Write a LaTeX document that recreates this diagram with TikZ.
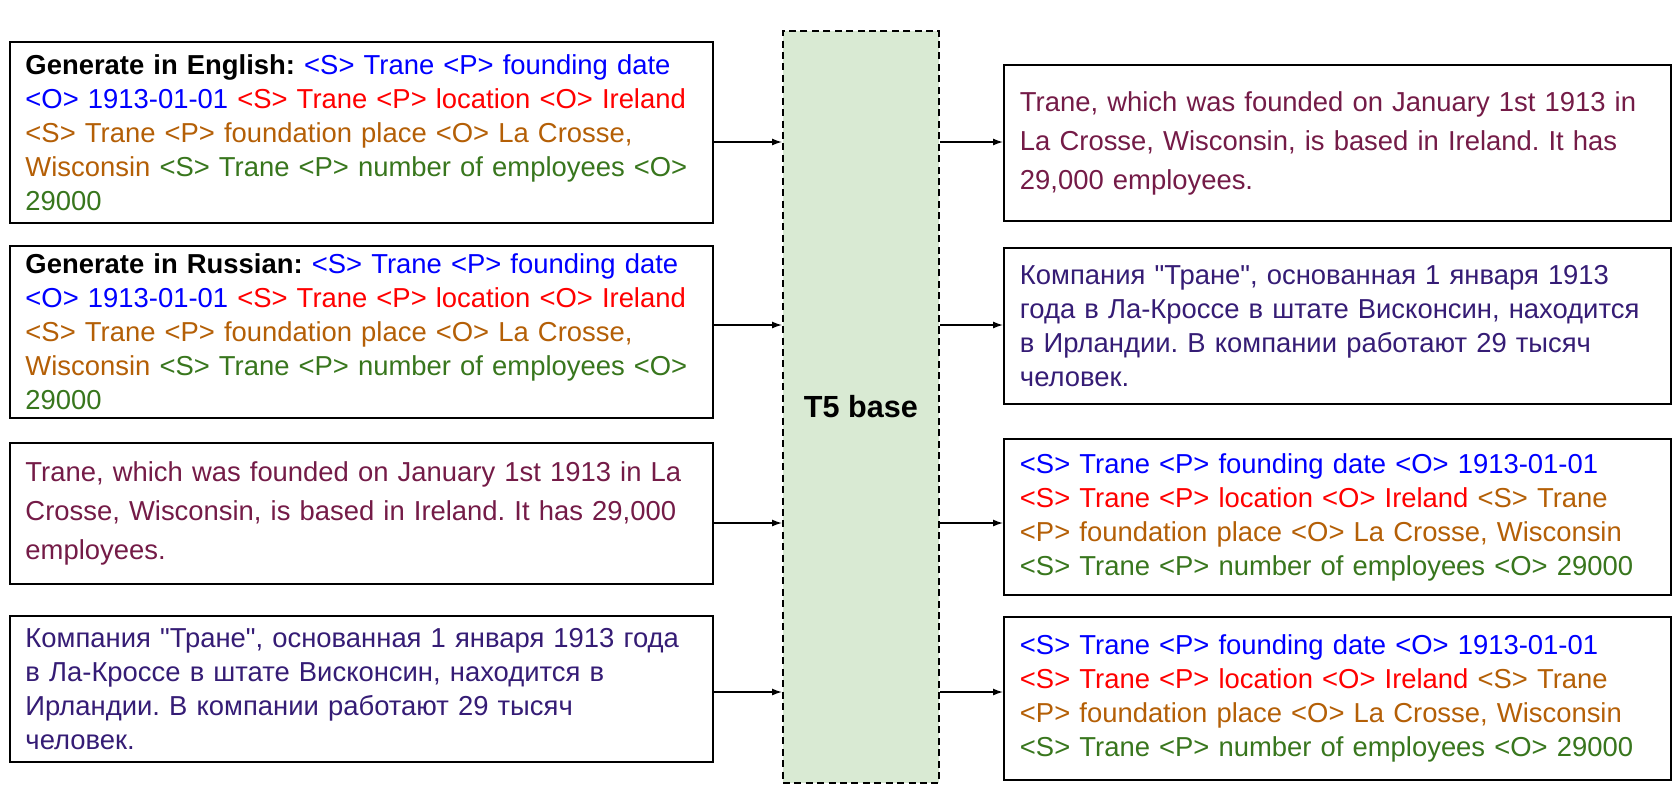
\documentclass[tikz,border=0pt]{standalone}
\usepackage{fontspec}
\setmainfont{Liberation Sans}[Ligatures=TeXOff]
\usepackage{xcolor}
\usetikzlibrary{arrows.meta, positioning}

\definecolor{tripblue}{HTML}{0000FF}
\definecolor{tripred}{HTML}{FF0000}
\definecolor{triporange}{HTML}{B45F06}
\definecolor{tripgreen}{HTML}{38761D}
\definecolor{entext}{HTML}{741B47}
\definecolor{rutext}{HTML}{351C75}
\definecolor{modelfill}{HTML}{D9EAD3}

\newcommand{\tB}[1]{\textcolor{tripblue}{#1}}
\newcommand{\tR}[1]{\textcolor{tripred}{#1}}
\newcommand{\tO}[1]{\textcolor{triporange}{#1}}
\newcommand{\tG}[1]{\textcolor{tripgreen}{#1}}

\tikzset{
  inbox/.style={draw, line width=1.1pt, rectangle, anchor=north west,
    minimum width=140.6mm, text width=134.4mm, inner xsep=3.1mm, inner ysep=0pt,
    align=left, font=\fontsize{15.6}{19.35}\selectfont},
  outbox/.style={inbox, minimum width=133.4mm, text width=127mm, inner xsep=3.2mm},
  model/.style={draw, dash pattern=on 4pt off 2.5pt, fill=modelfill, line width=1pt,
    anchor=north west, minimum width=31.2mm, minimum height=150.4mm,
    font=\bfseries\fontsize{17.4}{20}\selectfont},
  arr/.style={-{Latex[length=2mm,width=1.4mm]}, line width=0.75pt},
  every node/.append style={execute at begin node={\frenchspacing\hyphenpenalty=10000}},
}

\begin{document}
\begin{tikzpicture}[x=0.2mm, y=-0.2mm]
\useasboundingbox (0,0) rectangle (1679,790);

% inputs
\node[inbox, minimum height=36.2mm] (inEn) at (9,41)
  {\textbf{Generate in English:} \tB{<S> Trane <P> founding date}\\
   \tB{<O> 1913-01-01} \tR{<S> Trane <P> location <O> Ireland}\\
   \tO{<S> Trane <P> foundation place <O> La Crosse,}\\
   \tO{Wisconsin} \tG{<S> Trane <P> number of employees <O>}\\
   \tG{29000}};
\node[inbox, minimum height=34.4mm] (inRu) at (9,245)
  {\textbf{Generate in Russian:} \tB{<S> Trane <P> founding date}\\
   \tB{<O> 1913-01-01} \tR{<S> Trane <P> location <O> Ireland}\\
   \tO{<S> Trane <P> foundation place <O> La Crosse,}\\
   \tO{Wisconsin} \tG{<S> Trane <P> number of employees <O>}\\
   \tG{29000}};
\node[inbox, minimum height=28.2mm, text=entext, font=\fontsize{15.6}{22.2}\selectfont] (inTxtEn) at (9,442)
  {Trane, which was founded on January 1st 1913 in La\\
   Crosse, Wisconsin, is based in Ireland. It has 29,000\\
   employees.};
\node[inbox, minimum height=29.2mm, text=rutext] (inTxtRu) at (9,615)
  {Компания "Тране", основанная 1 января 1913 года\\
   в Ла-Кроссе в штате Висконсин, находится в\\
   Ирландии. В компании работают 29 тысяч\\
   человек.};

% model
\node[model] (t5) at (782,30) {T5 base};

% outputs
\node[outbox, minimum height=31.2mm, text=entext, font=\fontsize{15.6}{22.2}\selectfont] (outEn) at (1003,64)
  {Trane, which was founded on January 1st 1913 in\\
   La Crosse, Wisconsin, is based in Ireland. It has\\
   29,000 employees.};
\node[outbox, minimum height=31.2mm, text=rutext] (outRu) at (1003,247)
  {Компания "Тране", основанная 1 января 1913\\
   года в Ла-Кроссе в штате Висконсин, находится\\
   в Ирландии. В компании работают 29 тысяч\\
   человек.};
\node[outbox, minimum height=31.2mm] (outTripA) at (1003,438)
  {\tB{<S> Trane <P> founding date <O> 1913-01-01}\\
   \tR{<S> Trane <P> location <O> Ireland} \tO{<S> Trane}\\
   \tO{<P> foundation place <O> La Crosse, Wisconsin}\\
   \tG{<S> Trane <P> number of employees <O> 29000}};
\node[outbox, minimum height=32.6mm] (outTripB) at (1003,616)
  {\tB{<S> Trane <P> founding date <O> 1913-01-01}\\
   \tR{<S> Trane <P> location <O> Ireland} \tO{<S> Trane}\\
   \tO{<P> foundation place <O> La Crosse, Wisconsin}\\
   \tG{<S> Trane <P> number of employees <O> 29000}};

% connectors
\foreach \src/\y in {inEn/142, inRu/325, inTxtEn/523, inTxtRu/692}
  \draw[arr] (\src.east |- 0,\y) -- (t5.west |- 0,\y);
\foreach \dst/\y in {outEn/142, outRu/325, outTripA/523, outTripB/692}
  \draw[arr] (t5.east |- 0,\y) -- (\dst.west |- 0,\y);
\end{tikzpicture}
\end{document}
